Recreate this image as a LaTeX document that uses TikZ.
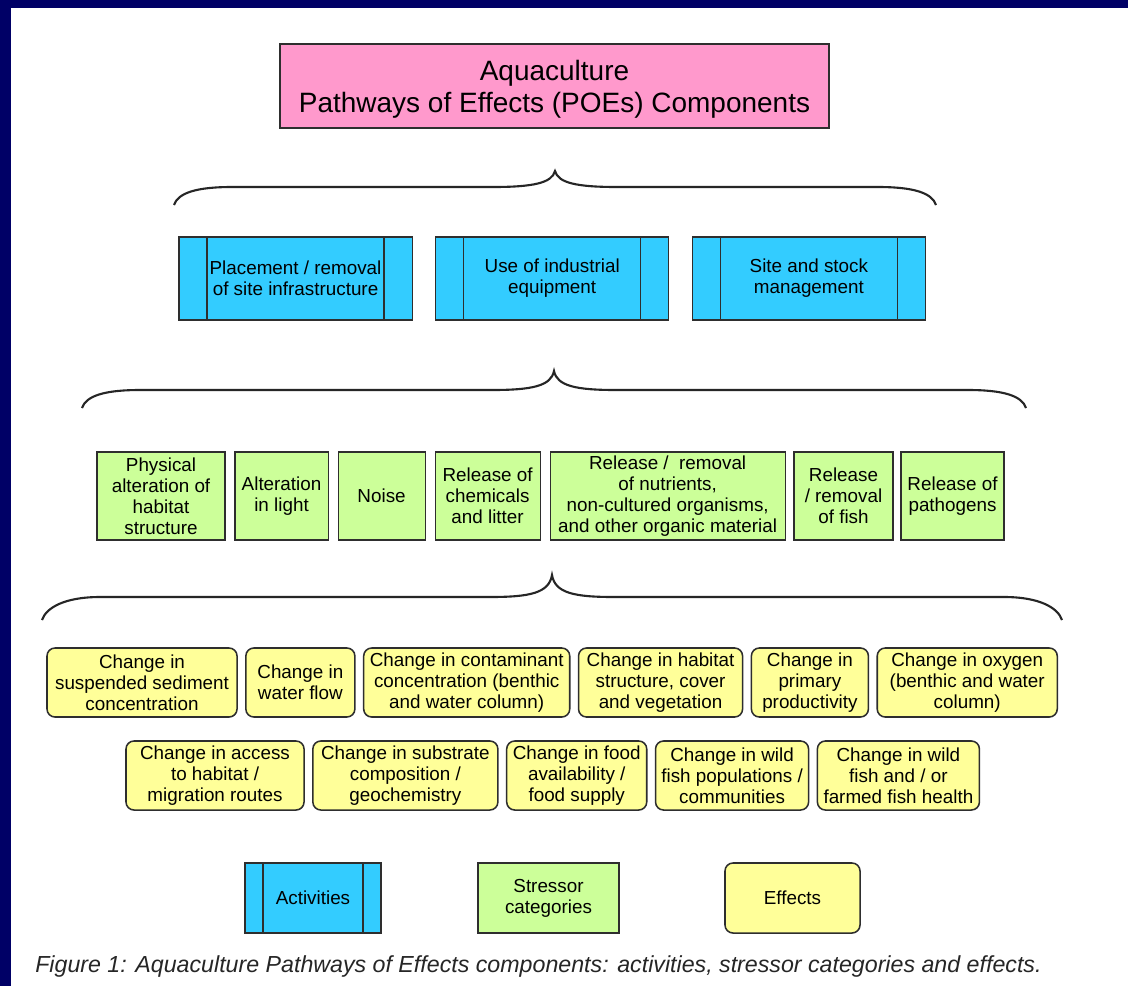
\documentclass[tikz,border=0pt]{standalone}
\usepackage{fontspec}
\setmainfont{Liberation Sans}
\usepackage{tikz}
\usetikzlibrary{positioning}
\usepackage{xcolor}
\definecolor{FrameNavy}{HTML}{000066}
\definecolor{TitlePink}{HTML}{FF99CC}
\definecolor{ActBlue}{HTML}{33CCFF}
\definecolor{StrGreen}{HTML}{CCFF99}
\definecolor{EffYellow}{HTML}{FFFF99}
\definecolor{EdgeGray}{HTML}{2E2E2E}
\tikzset{
    title_box/.style={rectangle, draw=EdgeGray, line width=1.2pt, fill=TitlePink, align=center, inner sep=0pt, outer sep=0pt, font=\fontsize{19.9}{22.7}\selectfont},
    act_box/.style={rectangle, draw=EdgeGray, line width=0.8pt, fill=ActBlue, align=center, inner sep=0pt, outer sep=0pt, minimum height=2.075cm, font=\fontsize{13.4}{14.9}\selectfont,
        path picture={\draw[EdgeGray, line width=0.8pt] ([xshift=#1]path picture bounding box.north west) -- ([xshift=#1]path picture bounding box.south west)
                                                         ([xshift=-#1]path picture bounding box.north east) -- ([xshift=-#1]path picture bounding box.south east);}},
    act_box/.default=0.7cm,
    str_box/.style={rectangle, draw=EdgeGray, line width=0.8pt, fill=StrGreen, align=center, inner sep=0pt, outer sep=0pt, minimum height=2.2cm, font=\fontsize{13.4}{14.9}\selectfont},
    eff_box/.style={rectangle, draw=EdgeGray, line width=1.1pt, fill=EffYellow, align=center, inner sep=0pt, outer sep=0pt, minimum height=1.725cm, rounded corners=0.2cm, font=\fontsize{13.4}{14.9}\selectfont},
    brace_line/.style={line width=1.5pt, draw=black!85},
    caption_txt/.style={font=\fontsize{16.5}{19}\selectfont\itshape, text=black!85, inner sep=0pt},
}

\begin{document}
\begin{tikzpicture}[x=0.025cm, y=-0.025cm]

% Frame
\fill[FrameNavy] (0,0) rectangle (1128,986);
\fill[white] (11,8) rectangle (1128,986);

% Title
\node[title_box, minimum width=13.725cm, minimum height=2.1cm] (title) at (554.5,86) {\rule{0pt}{18.8pt}Aquaculture\\Pathways of Effects (POEs) Components};

% Activities
\node[act_box, minimum width=5.825cm, anchor=west] (act_infra) at (179,278.5) {Placement / removal\\of site infrastructure};
\node[act_box, minimum width=5.825cm, right=0.59cm of act_infra] (act_equip) {Use of industrial\\equipment};
\node[act_box, minimum width=5.825cm, right=0.59cm of act_equip] (act_mgmt) {Site and stock\\management};

% Stressor categories
\node[str_box, minimum width=3.2cm, anchor=west] (str_phys) at (97,496) {Physical\\alteration of\\habitat\\structure};
\node[str_box, minimum width=2.325cm, right=0.25cm of str_phys] (str_light) {Alteration\\in light};
\node[str_box, minimum width=2.175cm, right=0.25cm of str_light] (str_noise) {Noise};
\node[str_box, minimum width=2.625cm, right=0.25cm of str_noise] (str_chem) {Release of\\chemicals\\and litter};
\node[str_box, minimum width=5.875cm, right=0.25cm of str_chem] (str_nutr) {Release /~~removal\\of nutrients,\\non-cultured organisms,\\and other organic material};
\node[str_box, minimum width=2.475cm, right=0.22cm of str_nutr] (str_fish) {Release\\/ removal\\of fish};
\node[str_box, minimum width=2.575cm, right=0.2cm of str_fish] (str_path) {Release of\\pathogens};

% Effects
\node[eff_box, minimum width=4.75cm, anchor=west] (eff_sed) at (47,682.5) {Change in\\suspended sediment\\concentration};
\node[eff_box, minimum width=2.725cm, right=0.22cm of eff_sed] (eff_flow) {Change in\\water flow};
\node[eff_box, minimum width=5.15cm, right=0.22cm of eff_flow] (eff_cont) {Change in contaminant\\concentration (benthic\\and water column)};
\node[eff_box, minimum width=4.1cm, right=0.22cm of eff_cont] (eff_hab) {Change in habitat\\structure, cover\\and vegetation};
\node[eff_box, minimum width=2.925cm, right=0.22cm of eff_hab] (eff_prod) {Change in\\primary\\productivity};
\node[eff_box, minimum width=4.5cm, right=0.22cm of eff_prod] (eff_oxy) {Change in oxygen\\(benthic and water\\column)};

\node[eff_box, minimum width=4.45cm, anchor=west] (eff_access) at (126,775.5) {Change in access\\to habitat /\\migration routes};
\node[eff_box, minimum width=4.625cm, right=0.22cm of eff_access] (eff_subs) {Change in substrate\\composition /\\geochemistry};
\node[eff_box, minimum width=3.5cm, right=0.22cm of eff_subs] (eff_food) {Change in food\\availability /\\food supply};
\node[eff_box, minimum width=3.825cm, right=0.22cm of eff_food] (eff_pop) {Change in wild\\fish populations /\\communities};
\node[eff_box, minimum width=4.05cm, right=0.22cm of eff_pop] (eff_health) {Change in wild\\fish and / or\\farmed fish health};

% Braces
\foreach \xl/\xr/\yl/\ye/\yp in {174/936/187/205/171, 82/1026/390/408/371, 42/1062/597/620/575}{
    \pgfmathsetmacro{\xm}{(\xl+\xr)/2}
    \draw[brace_line] (\xl,\ye) .. controls (\xl+4,\ye-12) and (\xl+22,\yl) .. (\xl+58,\yl) -- (\xm-62,\yl)
        .. controls (\xm-22,\yl) and (\xm-3,\yl-4) .. (\xm,\yp)
        .. controls (\xm+3,\yl-4) and (\xm+22,\yl) .. (\xm+62,\yl) -- (\xr-58,\yl)
        .. controls (\xr-22,\yl) and (\xr-4,\ye-12) .. (\xr,\ye);
}

% Legend
\node[act_box=0.45cm, minimum width=3.4cm, minimum height=1.75cm] (leg_act) at (313,898) {Activities};
\node[str_box, minimum width=3.525cm, minimum height=1.75cm] (leg_str) at (548.5,898) {Stressor\\categories};
\node[eff_box, minimum width=3.375cm, minimum height=1.75cm] (leg_eff) at (792.5,898) {Effects};

% Caption
\node[caption_txt, anchor=west] (caption) at (35,966) {Figure 1: Aquaculture Pathways of Effects components: activities, stressor categories and effects.};

\end{tikzpicture}
\end{document}
